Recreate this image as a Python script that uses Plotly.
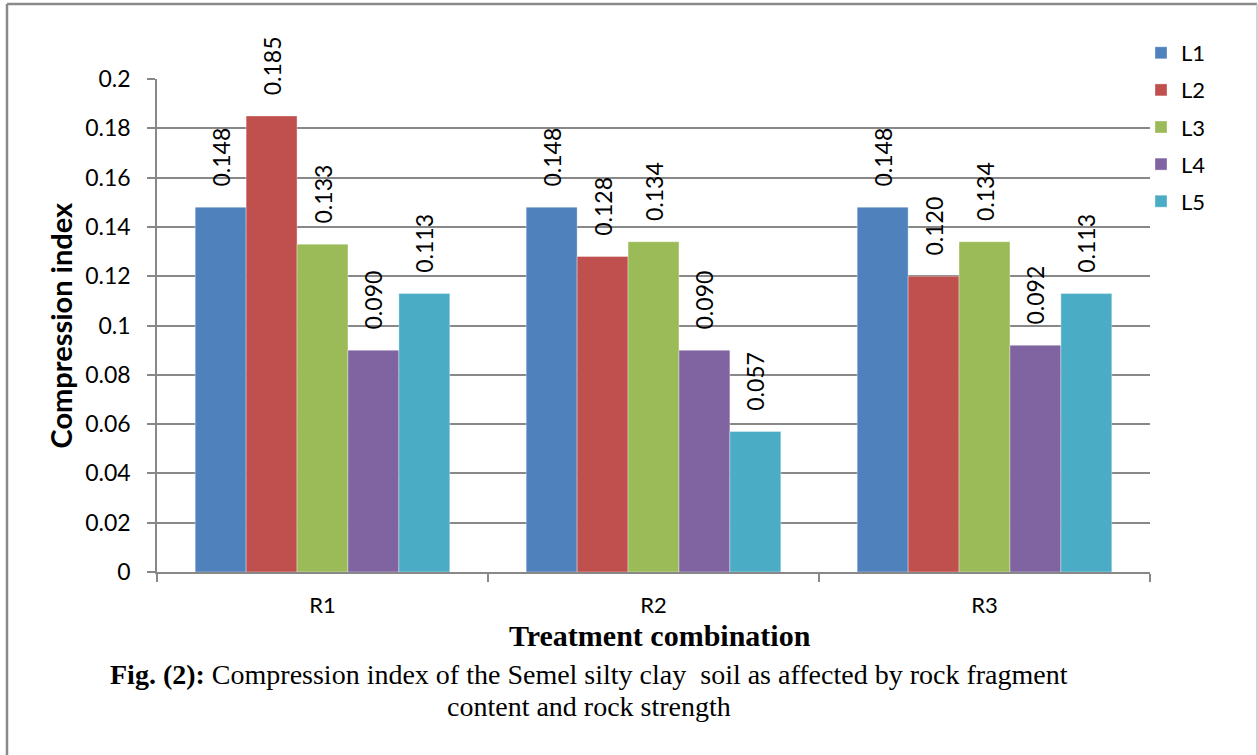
import plotly.graph_objects as go

# Treatment combinations (rock strength) and rock-fragment levels
categories = ["R1", "R2", "R3"]
series_names = ["L1", "L2", "L3", "L4", "L5"]

# Compression index per level, ordered R1, R2, R3
L1 = [0.148, 0.148, 0.148]
L2 = [0.185, 0.128, 0.120]
L3 = [0.133, 0.134, 0.134]
L4 = [0.090, 0.090, 0.092]
L5 = [0.113, 0.057, 0.113]

y_ticks = [0, 0.02, 0.04, 0.06, 0.08, 0.1, 0.12, 0.14, 0.16, 0.18, 0.2]
y_tick_text = ["0", "0.02", "0.04", "0.06", "0.08", "0.1", "0.12", "0.14", "0.16", "0.18", "0.2"]

colors = ["#4F81BD", "#C0504D", "#9BBB59", "#8064A2", "#4BACC6"]
values = [L1, L2, L3, L4, L5]

W, H = 1258, 755
PL, PR, PT, PB = 157, 1150, 79, 572  # plot-area pixel box


def px(x):
    return (x - PL) / (PR - PL)


def py(y):
    return (PB - y) / (PB - PT)


fig = go.Figure()
for name, vals, col in zip(series_names, values, colors):
    fig.add_trace(go.Bar(
        name=name, x=categories, y=vals,
        marker=dict(color=col, line=dict(color="rgba(255,255,255,0.35)", width=1)),
        texttemplate="\u00a0\u00a0\u00a0%{y:.3f}",
        textposition="outside", textangle=-90,
        textfont=dict(family="Lato", size=23, color="#000000"),
        constraintext="none", cliponaxis=False,
        legendgroup=name,
    ))

axis_grey = "#888888"
fig.update_layout(
    width=W, height=H,
    margin=dict(l=PL, r=W - PR, t=PT, b=H - PB, autoexpand=False),
    paper_bgcolor="white", plot_bgcolor="white",
    barmode="group", bargap=1.5 / 6.5, bargroupgap=0,
    font=dict(family="Lato", size=22, color="#000000"),
    legend=dict(
        x=px(1141), y=py(32), xanchor="left", yanchor="top",
        font=dict(family="Lato", size=22), tracegroupgap=5.5,
        bgcolor="rgba(0,0,0,0)",
    ),
    xaxis=dict(
        showline=True, linecolor=axis_grey, linewidth=1.5,
        ticks="outside", tickson="boundaries", ticklen=8, tickcolor=axis_grey,
        tickwidth=1.5, ticklabelstandoff=13,
        tickfont=dict(family="Lato", size=22),
        showgrid=False,
    ),
    yaxis=dict(
        range=[0, 0.2], tickvals=y_ticks, ticktext=y_tick_text,
        showline=True, linecolor=axis_grey, linewidth=1.5,
        ticks="outside", ticklen=8, tickcolor=axis_grey, tickwidth=1.5,
        ticklabelstandoff=12,
        tickfont=dict(family="Lato", size=23),
        showgrid=True, gridcolor=axis_grey, gridwidth=1.5,
        zeroline=False,
    ),
    annotations=[
        dict(text="<b>Compression index</b>", textangle=-90,
             x=px(60), y=0.5, xref="paper", yref="paper",
             xanchor="center", yanchor="middle", showarrow=False,
             font=dict(family="Lato", size=29)),
        dict(text="<b>Treatment combination</b>",
             x=px(660), y=py(635), xref="paper", yref="paper",
             xanchor="center", yanchor="middle", showarrow=False,
             font=dict(family="Liberation Serif", size=30)),
        dict(text="<b>Fig. (2):</b> Compression index of the Semel silty clay \u00a0soil as affected by rock fragment",
             x=px(589), y=py(674), xref="paper", yref="paper",
             xanchor="center", yanchor="middle", showarrow=False,
             font=dict(family="Liberation Serif", size=28)),
        dict(text="content and rock strength",
             x=px(589), y=py(706), xref="paper", yref="paper",
             xanchor="center", yanchor="middle", showarrow=False,
             font=dict(family="Liberation Serif", size=28)),
    ],
    shapes=[
        dict(type="line", xref="paper", yref="paper",
             x0=px(7), x1=px(1257), y0=py(4), y1=py(4),
             line=dict(color="#8a8a8a", width=2.5)),
        dict(type="line", xref="paper", yref="paper",
             x0=px(7), x1=px(7), y0=py(4), y1=py(760),
             line=dict(color="#8a8a8a", width=2.5)),
        dict(type="line", xref="paper", yref="paper",
             x0=px(1257), x1=px(1257), y0=py(4), y1=py(760),
             line=dict(color="#c4c4c4", width=1.5)),
    ],
)

fig.write_html("out.html")
